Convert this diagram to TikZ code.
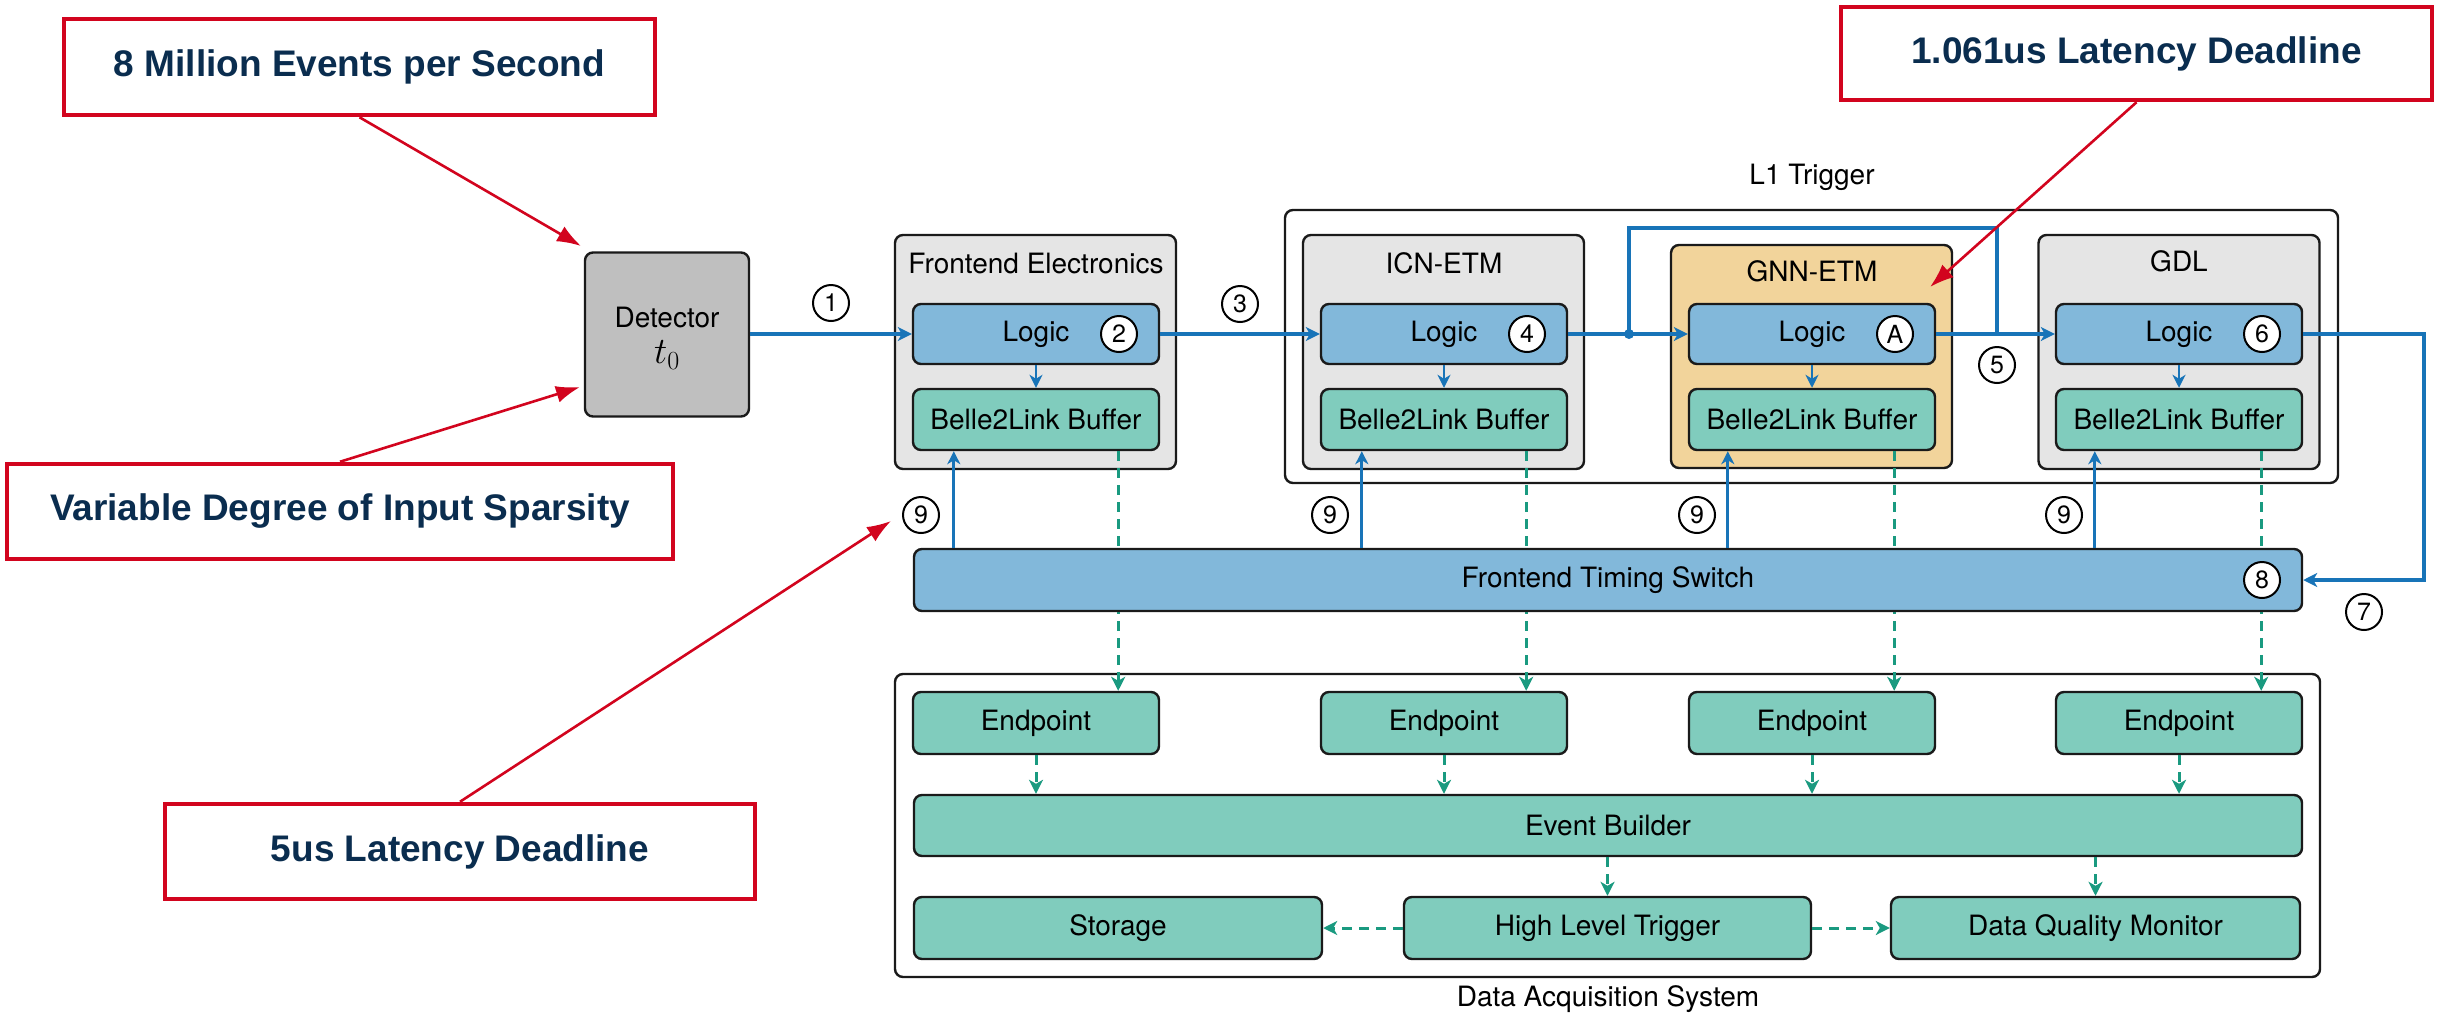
\RequirePackage{fix-cm}
\documentclass[tikz,border=0pt]{standalone}
\usepackage{fontspec}
\setmainfont{TeX Gyre Heros}
\newfontfamily\calloutfamily{Liberation Sans}
\usetikzlibrary{arrows.meta}

\definecolor{logicblue}{HTML}{82B8DA}
\definecolor{bufteal}{HTML}{80CCBD}
\definecolor{blockgray}{HTML}{E5E5E5}
\definecolor{detgray}{HTML}{BFBFBF}
\definecolor{gnnorange}{HTML}{F2D49B}
\definecolor{flowblue}{HTML}{1874B8}
\definecolor{datagreen}{HTML}{1A9A80}
\definecolor{calred}{HTML}{D2041E}
\definecolor{calnavy}{HTML}{0A2D4F}
\definecolor{edge}{HTML}{1A1A1A}

\newcommand\diagfont{\fontsize{28}{33}\selectfont}
\newcommand\numfont{\fontsize{25}{29}\selectfont}
\newcommand\calloutfont{\calloutfamily\bfseries\fontsize{37}{42}\selectfont}

\tikzset{
  framebox/.style={draw=edge, line width=2.4pt, rounded corners=8pt, inner sep=0pt, font=\diagfont},
  outerbox/.style={framebox, fill=white},
  blockbox/.style={framebox, fill=blockgray, minimum width=281pt, minimum height=234pt},
  logicbox/.style={framebox, fill=logicblue, minimum width=246pt, minimum height=60pt},
  tealbox/.style={framebox, fill=bufteal, minimum height=61pt},
  bufbox/.style={tealbox, minimum width=246pt},
  txt/.style={font=\diagfont, inner sep=0pt},
  num/.style={circle, draw=black, line width=2pt, fill=white, minimum size=36pt, inner sep=0pt, font=\numfont},
  callout/.style={draw=calred, line width=4.5pt, inner sep=0pt, font=\calloutfont, text=calnavy},
  mainline/.style={draw=flowblue, line width=3.5pt},
  mainflow/.style={mainline, -{Stealth[length=14pt,width=14pt,inset=4pt]}},
  syncflow/.style={draw=flowblue, line width=2.8pt, -{Stealth[length=13pt,width=13pt,inset=4pt]}},
  dataflow/.style={draw=datagreen, line width=3pt, dash pattern=on 10pt off 7pt, -{Stealth[length=14pt,width=14pt,inset=4pt]}},
  callarrow/.style={draw=calred, line width=2.6pt, -{Latex[length=24pt,width=17pt]}},
}

\begin{document}
\begin{tikzpicture}[x=1pt,y=-1pt]
\useasboundingbox[fill=white] (0,0) rectangle (2440,1015);

% enclosing systems
\node[outerbox, minimum width=1053pt, minimum height=273pt] (l1) at (1811.5,346.5) {};
\node[txt] (l1title) at (1812,177) {L1 Trigger};
\node[outerbox, minimum width=1425pt, minimum height=303pt] (daq) at (1607.5,825.5) {};
\node[txt] (daqtitle) at (1608,999) {Data Acquisition System};

% detector
\node[framebox, fill=detgray, minimum width=164pt, minimum height=164pt] (det) at (667,334.5) {};
\node[txt] (dettxt) at (667,317) {Detector};
\node[txt] (dett) at (667,355) {\scalebox{1.33}{$t_0$}};

% processing blocks
\node[blockbox] (fe) at (1035.5,352) {};
\node[blockbox] (icn) at (1443.5,352) {};
\node[blockbox, fill=gnnorange, minimum height=223pt] (gnn) at (1811.5,356.5) {};
\node[blockbox] (gdl) at (2179,352) {};
\node[txt] (fetitle) at (1036,263) {Frontend Electronics};
\node[txt] (icntitle) at (1444,263) {ICN-ETM};
\node[txt] (gnntitle) at (1812,271) {GNN-ETM};
\node[txt] (gdltitle) at (2179,261) {GDL};

\node[logicbox] (lg1) at (1036,334) {Logic};
\node[logicbox] (lg2) at (1444,334) {Logic};
\node[logicbox] (lg3) at (1812,334) {Logic};
\node[logicbox] (lg4) at (2179,334) {Logic};

\node[bufbox] (bf1) at (1036,419.5) {Belle2Link Buffer};
\node[bufbox] (bf2) at (1444,419.5) {Belle2Link Buffer};
\node[bufbox] (bf3) at (1812,419.5) {Belle2Link Buffer};
\node[bufbox] (bf4) at (2179,419.5) {Belle2Link Buffer};

% data acquisition chain
\node[bufbox, minimum height=62pt] (ep1) at (1036,723) {Endpoint};
\node[bufbox, minimum height=62pt] (ep2) at (1444,723) {Endpoint};
\node[bufbox, minimum height=62pt] (ep3) at (1812,723) {Endpoint};
\node[bufbox, minimum height=62pt] (ep4) at (2179,723) {Endpoint};
\node[tealbox, minimum width=1388pt] (eb) at (1608,825.5) {Event Builder};
\node[tealbox, minimum width=408pt, minimum height=62pt] (sto) at (1118,928) {Storage};
\node[tealbox, minimum width=407pt, minimum height=62pt] (hlt) at (1607.5,928) {High Level Trigger};
\node[tealbox, minimum width=409pt, minimum height=62pt] (dqm) at (2095.5,928) {Data Quality Monitor};

% readout taps under each buffer
\path ([xshift=-42pt]bf1.south east) coordinate (dn1);
\path ([xshift=-42pt]bf2.south east) coordinate (dn2);
\path ([xshift=-42pt]bf3.south east) coordinate (dn3);
\path ([xshift=-42pt]bf4.south east) coordinate (dn4);
\draw[dataflow] (dn1) -- (dn1 |- ep1.north);
\draw[dataflow] (dn2) -- (dn2 |- ep2.north);
\draw[dataflow] (dn3) -- (dn3 |- ep3.north);
\draw[dataflow] (dn4) -- (dn4 |- ep4.north);

% timing switch drawn over the readout lines
\node[framebox, fill=logicblue, minimum width=1388pt, minimum height=62pt] (fts) at (1608,580) {Frontend Timing Switch};

% timing distribution to the buffers
\path ([xshift=42pt]bf1.south west) coordinate (up1);
\path ([xshift=42pt]bf2.south west) coordinate (up2);
\path ([xshift=40pt]bf3.south west) coordinate (up3);
\path ([xshift=40pt]bf4.south west) coordinate (up4);
\draw[syncflow] (fts.north -| up1) -- (up1);
\draw[syncflow] (fts.north -| up2) -- (up2);
\draw[syncflow] (fts.north -| up3) -- (up3);
\draw[syncflow] (fts.north -| up4) -- (up4);

% logic to buffer
\draw[syncflow] (lg1.south) -- (bf1.north);
\draw[syncflow] (lg2.south) -- (bf2.north);
\draw[syncflow] (lg3.south) -- (bf3.north);
\draw[syncflow] (lg4.south) -- (bf4.north);

% trigger path
\draw[mainflow] (det.east |- lg1.west) -- (lg1.west);
\draw[mainflow] (lg1.east) -- (lg2.west);
\draw[mainflow] (lg2.east) -- (lg3.west);
\draw[mainflow] (lg3.east) -- (lg4.west);
\coordinate (split) at (1629,334);
\coordinate (byA) at (1629,228);
\coordinate (byB) at (1997,228);
\coordinate (merge) at (1997,334);
\draw[mainline] (split) -- (byA) -- (byB) -- (merge);
\fill[flowblue] (split) circle (5pt);
\coordinate (retx) at (2424,450);
\draw[mainflow] (lg4.east) -- (lg4.east -| retx) -- (fts.east -| retx) -- (fts.east);

% event builder and downstream
\draw[dataflow] (ep1.south) -- (ep1.south |- eb.north);
\draw[dataflow] (ep2.south) -- (ep2.south |- eb.north);
\draw[dataflow] (ep3.south) -- (ep3.south |- eb.north);
\draw[dataflow] (ep4.south) -- (ep4.south |- eb.north);
\draw[dataflow] (eb.south -| hlt.north) -- (hlt.north);
\draw[dataflow] (eb.south -| dqm.north) -- (dqm.north);
\draw[dataflow] (hlt.west) -- (sto.east);
\draw[dataflow] (hlt.east) -- (dqm.west);

% step markers
\node[num] (n1) at (831,303) {1};
\node[num] (n2) at (1119,334) {2};
\node[num] (n3) at (1240,304) {3};
\node[num] (n4) at (1527,334) {4};
\node[num] (nA) at (1895,334) {A};
\node[num] (n5) at (1997,365) {5};
\node[num] (n6) at (2262,334) {6};
\node[num] (n7) at (2364,612) {7};
\node[num] (n8) at (2262,580) {8};
\node[num] (n9a) at (921,515) {9};
\node[num] (n9b) at (1330,515) {9};
\node[num] (n9c) at (1697,515) {9};
\node[num] (n9d) at (2064,515) {9};

% callouts
\node[callout, minimum width=591pt, minimum height=96pt] (cEvents) at (359.5,67) {8 Million Events per Second};
\node[callout, minimum width=666pt, minimum height=95pt] (cSparse) at (340,511.5) {Variable Degree of Input Sparsity};
\node[callout, minimum width=590pt, minimum height=95pt] (cDaq) at (460,851.5) {5us Latency Deadline};
\node[callout, minimum width=591pt, minimum height=93pt] (cL1) at (2136.5,53.5) {1.061us Latency Deadline};
\coordinate (tipEvents) at (581,246);
\coordinate (tipSparse) at (580,387);
\coordinate (tipDaq) at (891,521);
\coordinate (tipL1) at (1930,287);
\draw[callarrow] (cEvents.south) -- (tipEvents);
\draw[callarrow] (cSparse.north) -- (tipSparse);
\draw[callarrow] (cDaq.north) -- (tipDaq);
\draw[callarrow] (cL1.south) -- (tipL1);
\end{tikzpicture}
\end{document}
